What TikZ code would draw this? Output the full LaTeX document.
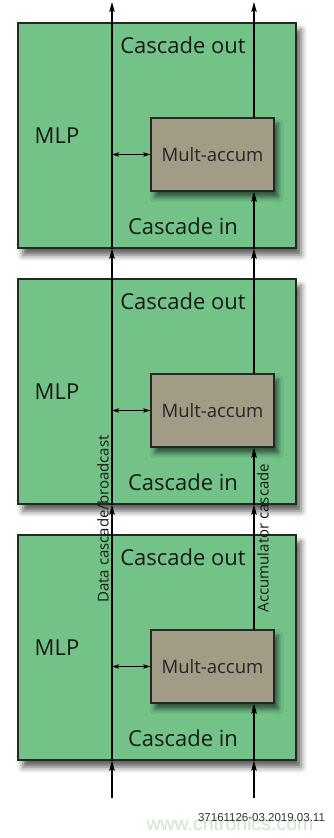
\documentclass[tikz,border=0pt]{standalone}
\usepackage{fontspec}
\setmainfont{Open Sans}
\newfontfamily\codefont{Liberation Sans}
\usepackage{xcolor}
\usepackage{tikz}
\usetikzlibrary{positioning,arrows.meta,shadows.blur}

\definecolor{mlpgreen}{HTML}{73C389}
\definecolor{macgray}{HTML}{A29C86}
\definecolor{markgreen}{HTML}{C9E8C9}

\begin{document}
\begin{tikzpicture}[x=1pt,y=1pt,
      mlp/.style={draw=black!85,line width=1.4pt,fill=mlpgreen,minimum width=278pt,minimum height=225pt,inner sep=0pt,
        blur shadow={shadow xshift=5pt,shadow yshift=-7pt,shadow blur radius=6pt,shadow opacity=65}},
      mac/.style={draw=black!85,line width=1.4pt,fill=macgray,minimum width=123pt,minimum height=73pt,inner sep=0pt,
        font=\fontsize{18.5}{22}\selectfont,text=black!85,
        blur shadow={shadow xshift=4pt,shadow yshift=-6pt,shadow blur radius=5pt,shadow opacity=60}},
      lbl/.style={font=\fontsize{22}{26}\selectfont,text=black!90,inner sep=0pt},
      vlbl/.style={font=\fontsize{15}{18}\selectfont,text=black!90,rotate=90,inner sep=2pt},
      arr/.style={line width=1.2pt,-{Stealth[length=10pt,width=5.5pt,inset=2pt]}},
      dbl/.style={line width=1.2pt,{Stealth[length=7pt,width=4.5pt,inset=1.5pt]}-{Stealth[length=7pt,width=4.5pt,inset=1.5pt]}}]
    \useasboundingbox (0,0) rectangle (333,838);
    \foreach \i/\y in {1/702.5,2/446.5,3/190.5} {
      \node[mlp] (blk\i) at (157,\y) {};
      \node[mac] (mac\i) at (212.5,\y-19) {Mult-accum};
      \node[lbl] (out\i) at (183,\y+90.5) {Cascade out};
      \node[lbl] (name\i) at (57,\y) {MLP};
      \node[lbl] (in\i) at (183,\y-90.5) {Cascade in};
    }
    % free ends of the two cascade lines
    \coordinate (dbot) at (112,40);
    \coordinate (dtop) at (112,836);
    \coordinate (abot) at (254,40);
    \coordinate (atop) at (254,836);
    % data cascade
    \draw[arr] (dbot) -- (dbot |- blk3.south);
    \draw[arr] (dbot |- blk3.south) -- (dbot |- blk2.south);
    \draw[arr] (dbot |- blk2.south) -- (dbot |- blk1.south);
    \draw[arr] (dbot |- blk1.south) -- (dtop);
    \foreach \i in {1,2,3}
      \draw[dbl] (dbot |- mac\i.west) -- (mac\i.west);
    % accumulator cascade
    \draw[arr] (abot) -- (abot |- blk3.south);
    \draw[arr] (abot |- blk3.south) -- (abot |- mac3.south);
    \foreach \i/\j in {3/2,2/1} {
      \draw[arr] (abot |- mac\i.north) -- (abot |- blk\j.south);
      \draw[arr] (abot |- blk\j.south) -- (abot |- mac\j.south);
    }
    \draw[arr] (abot |- mac1.north) -- (atop);
    \node[vlbl,anchor=south] (dlab) at (111,319) {Data cascade/broadcast};
    \node[vlbl,anchor=north] (alab) at (255,300) {Accumulator cascade};
    \node[font=\codefont\fontsize{19.5}{22}\selectfont,text=markgreen,inner sep=0pt] (mark) at (230,14) {www.cntronics.com};
    \node[font=\codefont\fontsize{11.5}{14}\selectfont,text=black!80,inner sep=0pt] (code) at (261.5,20) {37161126-03.2019.03.11};
  \end{tikzpicture}
\end{document}
